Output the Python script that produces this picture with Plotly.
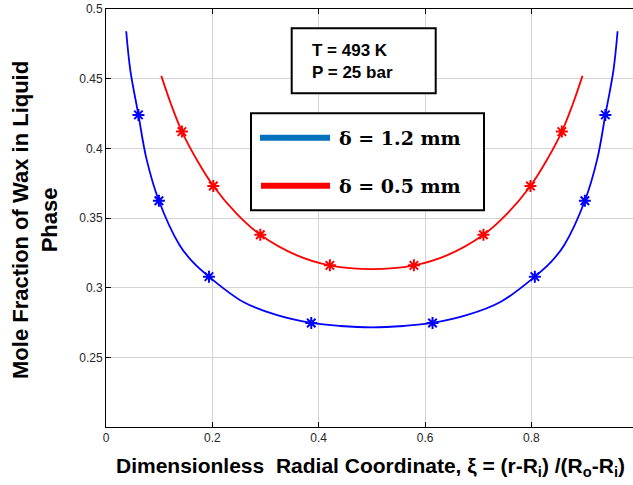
import plotly.graph_objects as go

# ---- data ----
xi_curve_12 = [0.038, 0.0457, 0.061, 0.0758, 0.0995, 0.1385, 0.1635, 0.1936, 0.2575, 0.3204, 0.386, 0.44, 0.500,
               0.56, 0.614, 0.6796, 0.7425, 0.8064, 0.8365, 0.8615, 0.9005, 0.9242, 0.939, 0.9543, 0.962]
y_curve_12 = [0.484, 0.4562, 0.424, 0.3930, 0.3624, 0.3305, 0.3183, 0.3079, 0.2899, 0.2804, 0.2747, 0.2725, 0.2715,
              0.2725, 0.2747, 0.2804, 0.2899, 0.3079, 0.3183, 0.3305, 0.3624, 0.3930, 0.424, 0.4562, 0.484]
xi_mark_12 = [0.061, 0.0995, 0.1936, 0.386, 0.614, 0.8064, 0.9005, 0.939]
y_mark_12 = [0.424, 0.3624, 0.3079, 0.2747, 0.2747, 0.3079, 0.3624, 0.424]

xi_curve_05 = [0.104, 0.1228, 0.1428, 0.171, 0.2018, 0.2451, 0.2902, 0.358, 0.421, 0.500,
               0.579, 0.642, 0.7098, 0.7549, 0.7982, 0.829, 0.8572, 0.8772, 0.896]
y_curve_05 = [0.452, 0.4311, 0.412, 0.3916, 0.373, 0.3534, 0.338, 0.3234, 0.316, 0.3133,
              0.316, 0.3234, 0.338, 0.3534, 0.373, 0.3916, 0.412, 0.4311, 0.452]
xi_mark_05 = [0.1428, 0.2018, 0.2902, 0.421, 0.579, 0.7098, 0.7982, 0.8572]
y_mark_05 = [0.412, 0.373, 0.338, 0.316, 0.316, 0.338, 0.373, 0.412]

x_tickvals = [0, 0.2, 0.4, 0.6, 0.8]
x_ticktext = ["0", "0.2", "0.4", "0.6", "0.8"]
y_tickvals = [0.25, 0.3, 0.35, 0.4, 0.45, 0.5]
y_ticktext = ["0.25", "0.3", "0.35", "0.4", "0.45", "0.5"]

legend_labels = ["δ = 1.2 mm", "δ = 0.5 mm"]
condition_text = "T = 493 K<br>P = 25 bar"
x_title = "Dimensionless  Radial Coordinate, ξ = (r-R<sub>i</sub>) /(R<sub>o</sub>-R<sub>i</sub>)"
y_title = "Mole Fraction of Wax in Liquid<br>Phase"

BLUE = "#0000FF"
RED = "#FF0000"

# plot-area geometry (px)
L, R, T, B = 106, 633, 9, 427
W, H = R - L, B - T


def px(xp):
    return (xp - L) / W


def py(yp):
    return (B - yp) / H


fig = go.Figure()
for xc, yc, xm, ym, col in [
    (xi_curve_12, y_curve_12, xi_mark_12, y_mark_12, BLUE),
    (xi_curve_05, y_curve_05, xi_mark_05, y_mark_05, RED),
]:
    fig.add_trace(go.Scatter(x=xc, y=yc, mode="lines",
                             line=dict(color=col, width=1.8, shape="spline", smoothing=1.0),
                             showlegend=False, hoverinfo="skip"))
    fig.add_trace(go.Scatter(x=xm, y=ym, mode="markers",
                             marker=dict(symbol="asterisk-open", size=10, color=col,
                                         line=dict(color=col, width=2)),
                             showlegend=False))

axis_font = dict(family="Liberation Sans, Arial, sans-serif", size=12, color="#262626")
fig.update_xaxes(range=[0, 0.991], tickvals=x_tickvals, ticktext=x_ticktext,
                 showgrid=True, gridcolor="#d4d4d4", gridwidth=1,
                 showline=True, linecolor="black", linewidth=1, mirror="ticks",
                 ticks="inside", ticklen=5, tickcolor="black", tickfont=axis_font,
                 zeroline=False, automargin=False)
fig.update_yaxes(range=[0.2, 0.5], tickvals=y_tickvals, ticktext=y_ticktext,
                 showgrid=True, gridcolor="#d4d4d4", gridwidth=1,
                 showline=True, linecolor="black", linewidth=1, mirror=False,
                 ticks="inside", ticklen=5, tickcolor="black", tickfont=axis_font,
                 zeroline=False, automargin=False)

shapes = [
    # condition box
    dict(type="rect", xref="paper", yref="paper", x0=px(291.7), x1=px(435.7),
         y0=py(93.3), y1=py(28.3), line=dict(color="black", width=2), fillcolor="white", layer="above"),
    # legend box
    dict(type="rect", xref="paper", yref="paper", x0=px(251), x1=px(484),
         y0=py(210.3), y1=py(113.3), line=dict(color="black", width=2), fillcolor="white", layer="above"),
    dict(type="line", xref="paper", yref="paper", x0=px(260), x1=px(330),
         y0=py(137.7), y1=py(137.7), line=dict(color="#0072BD", width=6), layer="above"),
    dict(type="line", xref="paper", yref="paper", x0=px(261), x1=px(330),
         y0=py(185.7), y1=py(185.7), line=dict(color="#FF0000", width=6), layer="above"),
]
annotations = [
    dict(xref="paper", yref="paper", x=px(310), y=py(61.5), xanchor="left", yanchor="middle",
         text="<b>" + condition_text + "</b>", align="left", showarrow=False,
         font=dict(family="Liberation Sans, Arial, sans-serif", size=17, color="black")),
    dict(xref="paper", yref="paper", x=px(337), y=py(137.7), xanchor="left", yanchor="middle",
         text="<b>" + legend_labels[0] + "</b>", showarrow=False,
         font=dict(family="DejaVu Serif, serif", size=19, color="black")),
    dict(xref="paper", yref="paper", x=px(337), y=py(185.7), xanchor="left", yanchor="middle",
         text="<b>" + legend_labels[1] + "</b>", showarrow=False,
         font=dict(family="DejaVu Serif, serif", size=19, color="black")),
    dict(xref="paper", yref="paper", x=px(370), y=py(467), xanchor="center", yanchor="middle",
         text="<b>" + x_title + "</b>", showarrow=False,
         font=dict(family="Liberation Sans, Arial, sans-serif", size=21, color="black")),
    dict(xref="paper", yref="paper", x=px(35), y=py(220), xanchor="center", yanchor="middle",
         text="<b>" + y_title + "</b>", showarrow=False, textangle=-90,
         font=dict(family="Liberation Sans, Arial, sans-serif", size=22, color="black")),
]

fig.update_layout(width=633, height=485, margin=dict(l=L, r=633 - R, t=T, b=485 - B),
                  plot_bgcolor="white", paper_bgcolor="white",
                  shapes=shapes, annotations=annotations, showlegend=False)

fig.write_html("out.html", config={"displayModeBar": False},
               post_script="document.body.style.margin='0';")
